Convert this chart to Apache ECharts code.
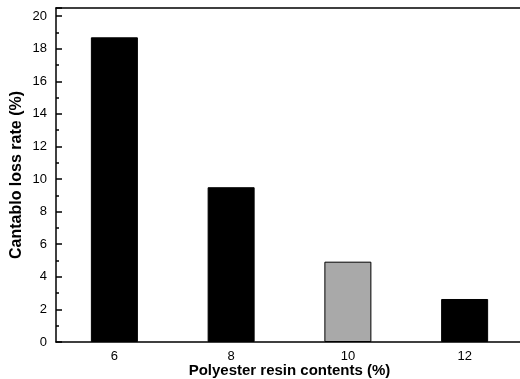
<!DOCTYPE html>
<html>
<head>
<meta charset="utf-8">
<script src="https://cdn.jsdelivr.net/npm/echarts@6/dist/echarts.min.js"></script>
<style>
html,body{margin:0;padding:0;background:#fff;}
#c{width:520px;height:379px;}
</style>
</head>
<body>
<div id="c"></div>
<script>
var categories = ['6', '8', '10', '12'];
var lossRate = [18.7, 9.5, 4.93, 2.64];
var yTicks = [0, 2, 4, 6, 8, 10, 12, 14, 16, 18, 20];

var barFill = ['#000000', '#000000', '#a9a9a9', '#000000'];

var chart = echarts.init(document.getElementById('c'), null, {renderer: 'canvas'});
var font = 'Liberation Sans, Arial, Helvetica, sans-serif';

chart.setOption({
  animation: false,
  backgroundColor: '#ffffff',
  grid: {left: 56, top: 8, bottom: 37, width: 467, containLabel: false, outerBoundsMode: 'none'},
  xAxis: [{
    type: 'category',
    data: categories,
    position: 'bottom',
    name: 'Polyester resin contents (%)',
    nameLocation: 'middle',
    nameGap: 21,
    nameMoveOverlap: false,
    nameTextStyle: {fontFamily: font, fontSize: 15, fontWeight: 'bold', color: '#000'},
    axisLine: {show: true, lineStyle: {color: '#000', width: 1.5}},
    axisTick: {show: false},
    axisLabel: {fontFamily: font, fontSize: 13, color: '#000', margin: 8},
    splitLine: {show: false}
  }, {
    type: 'category',
    data: categories,
    position: 'top',
    axisLine: {show: true, lineStyle: {color: '#000', width: 1.5}},
    axisTick: {show: false},
    axisLabel: {show: false},
    splitLine: {show: false}
  }],
  yAxis: {
    type: 'value',
    min: 0,
    max: 20.5,
    interval: 2,
    name: 'Cantablo loss rate (%)',
    nameLocation: 'middle',
    nameGap: 31,
    nameMoveOverlap: false,
    nameTextStyle: {fontFamily: font, fontSize: 16, fontWeight: 'bold', color: '#000'},
    axisLine: {show: true, lineStyle: {color: '#000', width: 1.5}},
    axisTick: {show: true, inside: true, length: 6, lineStyle: {color: '#000', width: 1.5}},
    minorTick: {show: true, splitNumber: 2, length: 3, lineStyle: {color: '#000', width: 1.5}},
    axisLabel: {
      fontFamily: font, fontSize: 13, color: '#000', margin: 9,
      formatter: function (v) { return yTicks.indexOf(v) >= 0 ? String(v) : ''; }
    },
    splitLine: {show: false}
  },
  series: [{
    type: 'bar',
    barWidth: 47,
    data: lossRate.map(function (v, i) {
      return {value: v, itemStyle: {color: barFill[i], borderColor: '#000', borderWidth: 1}};
    })
  }]
});
</script>
</body>
</html>
